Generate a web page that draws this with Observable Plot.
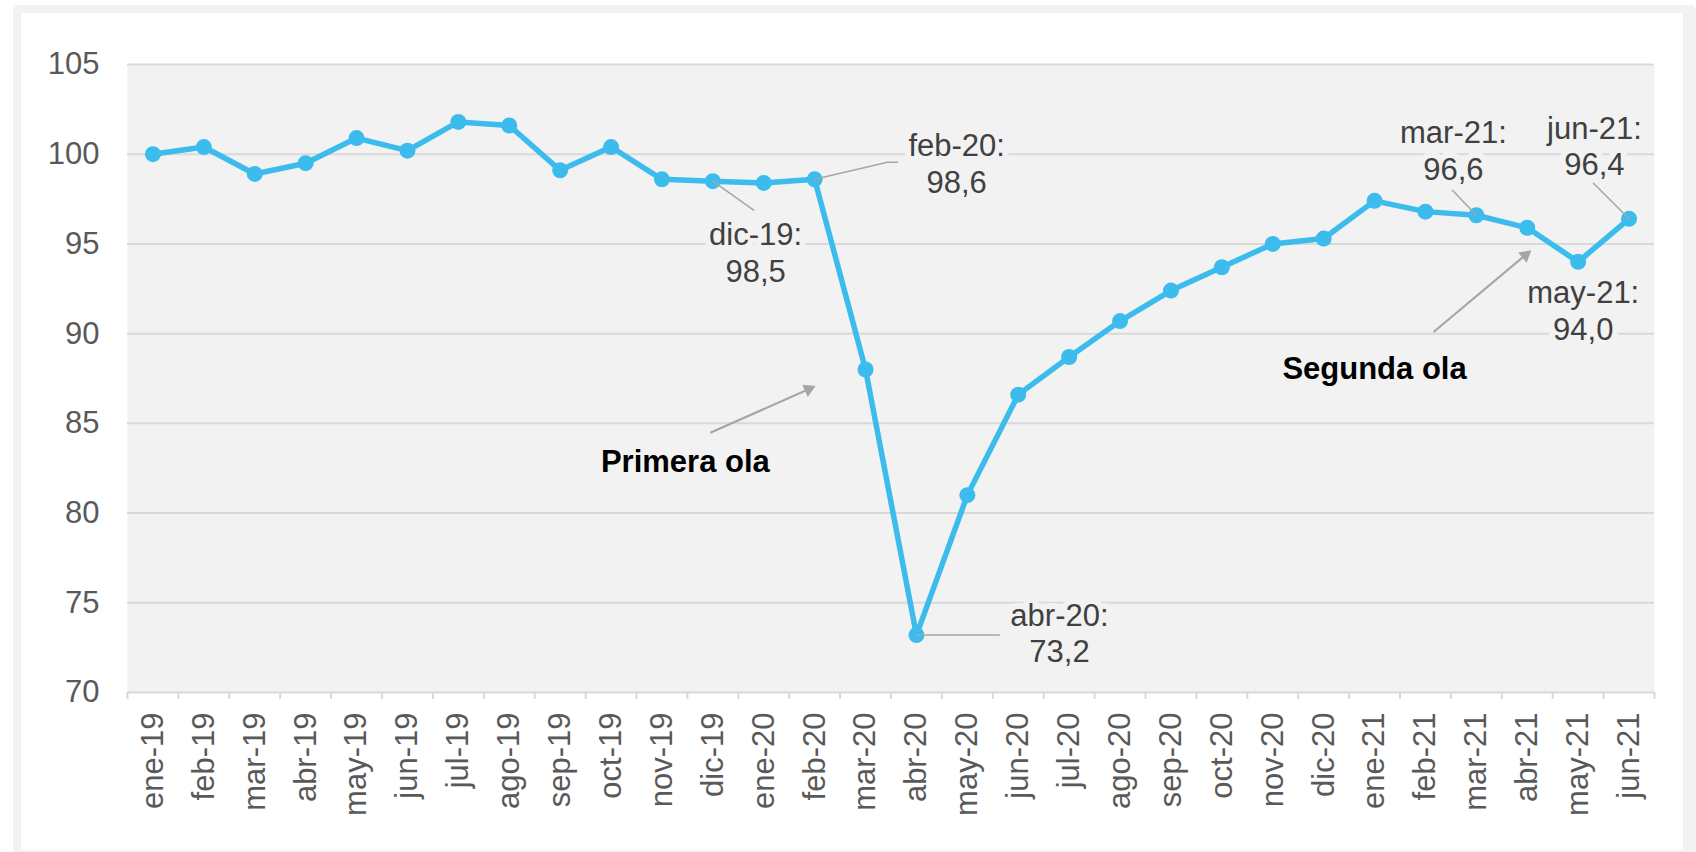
<!DOCTYPE html>
<html>
<head>
<meta charset="utf-8">
<script src="https://cdn.jsdelivr.net/npm/d3@7"></script>
<script src="https://cdn.jsdelivr.net/npm/@observablehq/plot@0.6"></script>
<style>
  html, body { margin: 0; padding: 0; width: 1696px; height: 852px; overflow: hidden; background: #ffffff; }
  #frame { position: absolute; left: 13px; top: 5px; width: 1662px; height: 837px;
           border: 8px solid #f2f2f2; border-right-width: 13px; border-radius: 6px; }
  #chart { position: absolute; left: 0; top: 0; }
</style>
</head>
<body>
<div id="frame"></div>
<div id="chart"></div>
<script>
// ---- data ----
const months = ["ene-19","feb-19","mar-19","abr-19","may-19","jun-19","jul-19","ago-19","sep-19","oct-19","nov-19","dic-19",
                "ene-20","feb-20","mar-20","abr-20","may-20","jun-20","jul-20","ago-20","sep-20","oct-20","nov-20","dic-20",
                "ene-21","feb-21","mar-21","abr-21","may-21","jun-21"];
const values = [100.0,100.4,98.9,99.5,100.9,100.2,101.8,101.6,99.1,100.4,98.6,98.5,
                98.4,98.6,88.0,73.2,81.0,86.6,88.7,90.7,92.4,93.7,95.0,95.3,
                97.4,96.8,96.6,95.9,94.0,96.4];
const yTicks = [70,75,80,85,90,95,100,105];

// annotated points (index into months) with label anchor (data coords)
const labelIdx = [13, 11, 15, 26, 29, 28];
const labelX   = [15.79, 11.84, 17.81, 25.55, 28.32, 28.10];
const labelY   = [99.52, 94.57, 73.36, 100.24, 100.49, 91.34];

// leader lines (from the point to the label)
const leaders = [
  {k: "feb", pts: [[13, 98.6], [14.43, 99.55], [14.63, 99.55]]},
  {k: "dic", pts: [[11, 98.5], [11.80, 96.88]]},
  {k: "abr", pts: [[15, 73.2], [16.63, 73.2]]},
  {k: "mar", pts: [[25.53, 97.99], [26, 96.6]]},
  {k: "jun", pts: [[28.30, 98.38], [29, 96.4]]}
];

// wave annotations
const waveText = ["Primera ola", "Segunda ola"];
const waveTextX = [10.46, 24.0];
const waveTextY = [82.82, 88.0];
const arrowFrom = [[10.95, 84.47], [25.16, 90.09]];
const arrowTo   = [[13.02, 87.08], [27.08, 94.65]];

// ---- layout ----
const W = 1696, H = 852, mL = 127, mR = 42, mT = 64, mB = 160;
const pxX = (W - mL - mR) / 30, pxY = (H - mT - mB) / 35;

const data = months.map((m, i) => ({i, m, v: values[i]}));
const fmt = v => v.toFixed(1).replace(".", ",");
const labels = labelIdx.map((i, j) => ({x: labelX[j], y: labelY[j], text: `${months[i]}:\n${fmt(values[i])}`}));
const leaderPts = leaders.flatMap(d => d.pts.map(([x, y]) => ({k: d.k, x, y})));

const arrows = arrowFrom.map((f, j) => {
  const t = arrowTo[j];
  const dxp = (t[0] - f[0]) * pxX, dyp = -(t[1] - f[1]) * pxY;
  const len = Math.hypot(dxp, dyp);
  const back = 7.8;
  const cx = t[0] - (dxp / len) * back / pxX;
  const cy = t[1] + (dyp / len) * back / pxY;
  const rot = Math.atan2(dxp, -dyp) * 180 / Math.PI;
  return {x1: f[0], y1: f[1], x2: cx, y2: cy, rot};
});
const waves = waveText.map((t, j) => ({t, x: waveTextX[j], y: waveTextY[j]}));

const blue = "#3bbcec";
const font = "'Liberation Sans', Arial, sans-serif";

const chart = Plot.plot({
  width: W, height: H,
  marginLeft: mL, marginRight: mR, marginTop: mT, marginBottom: mB,
  style: {background: "none", fontFamily: font, fontSize: "31px", color: "#595959", overflow: "visible"},
  x: {domain: [-0.5, 29.5]},
  y: {domain: [70, 105]},
  marks: [
    Plot.frame({fill: "#f2f2f2", stroke: null}),
    Plot.gridY(yTicks, {stroke: "#d9d9d9", strokeOpacity: 1, strokeWidth: 2}),
    Plot.axisY(yTicks, {tickSize: 0, tickPadding: 28, fill: "#595959", fontSize: 31, tickFormat: d => String(d)}),
    Plot.axisX(d3.range(31).map(i => i - 0.5), {tickSize: 7, stroke: "#d9d9d9", strokeWidth: 2, strokeOpacity: 1, tickFormat: () => ""}),
    Plot.axisX(d3.range(30), {tickSize: 0, tickPadding: 20, tickRotate: -90, fill: "#595959", fontSize: 31, tickFormat: i => months[i]}),
    Plot.text(labels, {x: "x", y: "y", text: "text", fill: "#404040", stroke: "#f2f2f2", strokeWidth: 12,
                       paintOrder: "stroke", fontSize: 31, lineHeight: 1.18, textAnchor: "middle"}),
    Plot.line(data, {x: "i", y: "v", stroke: blue, strokeWidth: 5.5, curve: "linear"}),
    Plot.dot(data, {x: "i", y: "v", r: 8, fill: blue, stroke: null}),
    Plot.line(leaderPts, {x: "x", y: "y", z: "k", stroke: "#a6a6a6", strokeWidth: 1.5}),
    Plot.link(arrows, {x1: "x1", y1: "y1", x2: "x2", y2: "y2", stroke: "#a6a6a6", strokeWidth: 2.2}),
    Plot.dot(arrows, {x: "x2", y: "y2", symbol: "triangle", r: 5, fill: "#a6a6a6", stroke: null, rotate: "rot"}),
    Plot.text(waves, {x: "x", y: "y", text: "t", fill: "#000000", fontWeight: "bold", fontSize: 31, textAnchor: "middle"})
  ]
});
document.getElementById("chart").appendChild(chart);
</script>
</body>
</html>
